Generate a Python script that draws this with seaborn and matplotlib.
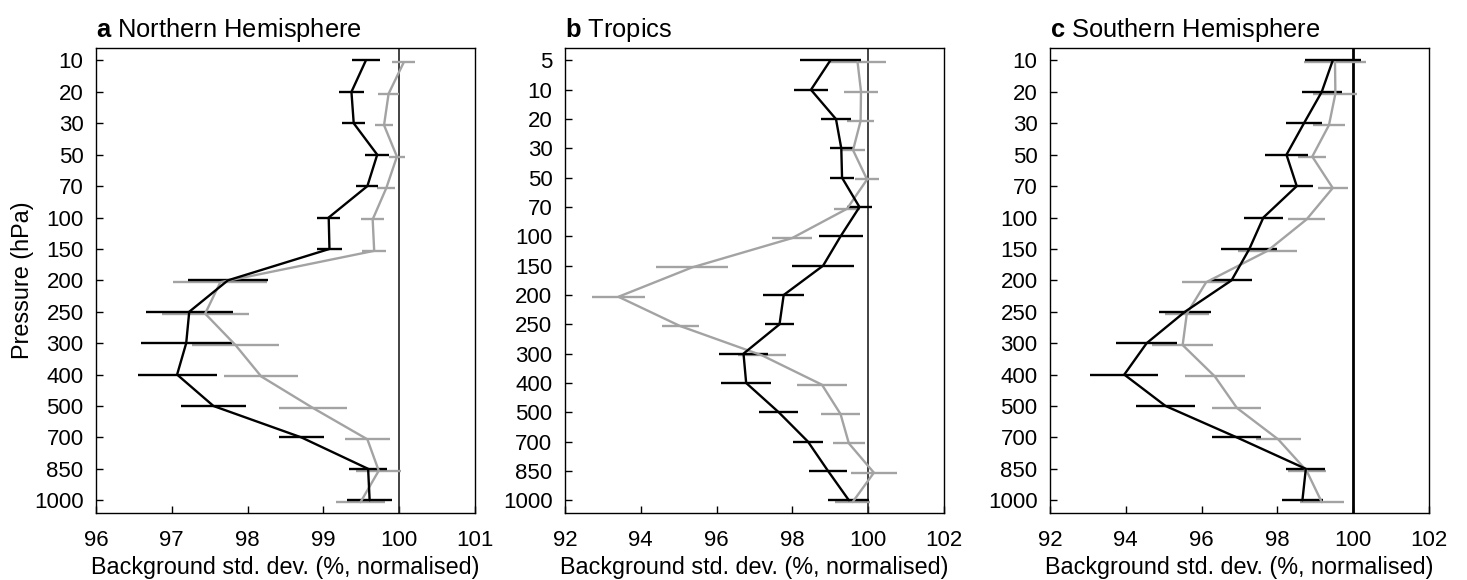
import numpy as np
import pandas as pd
import matplotlib
matplotlib.use("Agg")
import matplotlib.pyplot as plt
import seaborn as sns

# pressure levels (hPa), shown as equally spaced categories
levels_ext = [10, 20, 30, 50, 70, 100, 150, 200, 250, 300, 400, 500, 700, 850, 1000]
levels_trop = [5, 10, 20, 30, 50, 70, 100, 150, 200, 250, 300, 400, 500, 700, 850, 1000]

# a Northern Hemisphere
nh_black = [99.56, 99.37, 99.40, 99.71, 99.58, 99.07, 99.08, 97.74, 97.23, 97.19, 97.07, 97.55, 98.71, 99.59, 99.61]
nh_black_err = [0.185, 0.16, 0.15, 0.155, 0.145, 0.155, 0.17, 0.53, 0.575, 0.60, 0.52, 0.435, 0.295, 0.255, 0.30]
nh_grey = [100.06, 99.86, 99.80, 99.97, 99.83, 99.65, 99.67, 97.64, 97.44, 97.84, 98.18, 98.86, 99.58, 99.73, 99.49]
nh_grey_err = [0.155, 0.14, 0.115, 0.11, 0.12, 0.15, 0.155, 0.62, 0.575, 0.575, 0.49, 0.45, 0.295, 0.295, 0.32]

# b Tropics
tr_black = [99.0, 98.49, 99.15, 99.29, 99.31, 99.77, 99.27, 98.81, 97.77, 97.66, 96.71, 96.78, 97.64, 98.41, 98.94, 99.49]
tr_black_err = [0.80, 0.46, 0.405, 0.30, 0.315, 0.335, 0.58, 0.815, 0.54, 0.395, 0.655, 0.665, 0.515, 0.405, 0.505, 0.54]
tr_grey = [99.72, 99.81, 99.80, 99.60, 99.97, 99.44, 97.99, 95.35, 93.41, 95.04, 97.20, 98.78, 99.27, 99.49, 100.15, 99.59]
tr_grey_err = [0.74, 0.45, 0.365, 0.32, 0.325, 0.345, 0.53, 0.96, 0.70, 0.49, 0.625, 0.665, 0.52, 0.42, 0.605, 0.47]

# c Southern Hemisphere
sh_black = [99.46, 99.17, 98.70, 98.24, 98.51, 97.63, 97.26, 96.79, 95.56, 94.55, 93.96, 95.05, 96.93, 98.75, 98.66]
sh_black_err = [0.735, 0.525, 0.475, 0.58, 0.44, 0.505, 0.735, 0.55, 0.68, 0.80, 0.90, 0.78, 0.65, 0.51, 0.54]
sh_grey = [99.52, 99.53, 99.36, 98.92, 99.46, 98.77, 97.74, 96.12, 95.61, 95.50, 96.35, 96.93, 98.02, 98.77, 99.17]
sh_grey_err = [0.83, 0.58, 0.415, 0.365, 0.40, 0.495, 0.79, 0.625, 0.58, 0.805, 0.79, 0.65, 0.59, 0.50, 0.58]

sns.set_style("ticks")
plt.rcParams["font.family"] = ["Liberation Sans", "DejaVu Sans"]
plt.rcParams["mathtext.fontset"] = "custom"
plt.rcParams["mathtext.rm"] = "Liberation Sans"
plt.rcParams["mathtext.bf"] = "Liberation Sans:bold"
for k in ["text.color", "axes.labelcolor", "xtick.color", "ytick.color", "axes.edgecolor"]:
    plt.rcParams[k] = "black"

GREY = "#a3a3a3"

fig = plt.figure(figsize=(14.67, 5.80), dpi=100)
lefts = [96 / 1467, 565 / 1467, 1050 / 1467]
width = 379 / 1467
bottom = 1 - 513 / 580
height = (513 - 47.7) / 580

panels = [
    ("a", "Northern Hemisphere", levels_ext, nh_black, nh_black_err, nh_grey, nh_grey_err, (96, 101), np.arange(96, 102, 1), 1.2),
    ("b", "Tropics", levels_trop, tr_black, tr_black_err, tr_grey, tr_grey_err, (92, 102), np.arange(92, 103, 2), 1.2),
    ("c", "Southern Hemisphere", levels_ext, sh_black, sh_black_err, sh_grey, sh_grey_err, (92, 102), np.arange(92, 103, 2), 2.0),
]

for i, (letter, name, lev, blk, blk_e, gry, gry_e, xl, xt, vlw) in enumerate(panels):
    ax = fig.add_axes([lefts[i], bottom, width, height])
    n = len(lev)
    pos = np.arange(n)
    df = pd.DataFrame({
        "pos": np.concatenate([pos + 0.06, pos]),
        "val": np.concatenate([gry, blk]),
        "lo": np.concatenate([np.array(gry) - gry_e, np.array(blk) - blk_e]),
        "hi": np.concatenate([np.array(gry) + gry_e, np.array(blk) + blk_e]),
        "run": ["grey"] * n + ["black"] * n,
    })

    ax.axvline(100, color="#222222" if vlw < 2 else "black", lw=vlw, zorder=1)
    for run, col in [("grey", GREY), ("black", "black")]:
        d = df[df["run"] == run]
        ax.hlines(d["pos"], d["lo"], d["hi"], color=col, lw=1.7, zorder=2)
        sns.lineplot(data=d, x="val", y="pos", sort=False, estimator=None,
                     color=col, lw=1.7, ax=ax, zorder=3)

    pad = 0.029 * (n - 1)
    ax.set_ylim(n - 1 + pad, -pad)
    ax.set_yticks(pos)
    ax.set_yticklabels([str(v) for v in lev])
    ax.set_xlim(*xl)
    ax.set_xticks(xt)
    ax.tick_params(direction="in", length=5, width=1, labelsize=16, color="black")
    ax.tick_params(axis="y", pad=9)
    ax.tick_params(axis="x", pad=12)
    for s in ax.spines.values():
        s.set_visible(True)
        s.set_linewidth(1.0)
        s.set_color("black")
    ax.set_xlabel("Background std. dev. (%, normalised)", fontsize=16.8, labelpad=4)
    ax.set_ylabel("Pressure (hPa)" if i == 0 else "", fontsize=16.8, labelpad=0)
    ax.set_title(r"$\bf{" + letter + "}$ " + name, loc="left", fontsize=18.4, pad=8)

fig.savefig("out.png", dpi=100)
